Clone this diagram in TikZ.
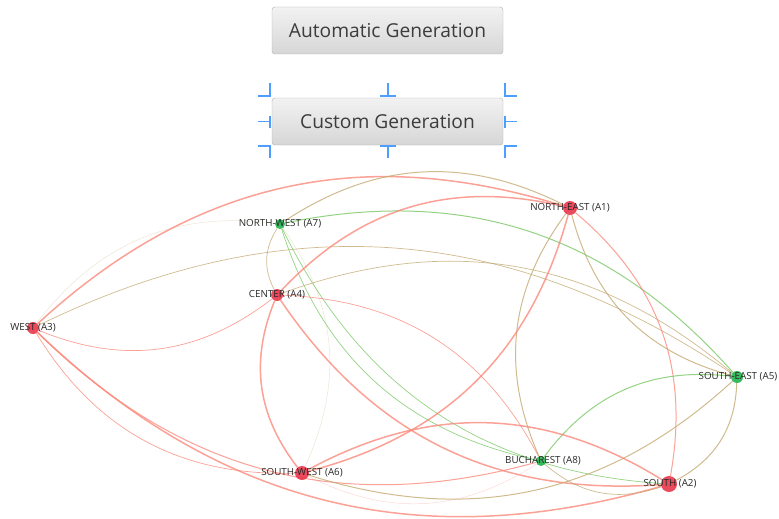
\documentclass[tikz,border=0pt]{standalone}
\usepackage{fontspec}
\setmainfont{Open Sans}
\newfontfamily\btnfont{Open Sans}
\usetikzlibrary{shadings}
\pgfdeclarelayer{edges}
\pgfsetlayers{edges,main}

\definecolor{nodered}{RGB}{232,54,74}
\definecolor{nodegreen}{RGB}{34,178,76}
\definecolor{edgered}{RGB}{250,130,115}
\definecolor{edgegreen}{RGB}{120,200,100}
\definecolor{edgemix}{RGB}{196,170,115}
\definecolor{handleblue}{RGB}{77,158,255}
\definecolor{btnborder}{RGB}{175,175,175}
\definecolor{btntext}{RGB}{60,60,60}
\definecolor{labeltext}{RGB}{40,40,40}

\tikzset{
  vtx/.style={circle, inner sep=0pt, minimum size=#1},
  redv/.style={vtx=#1, fill=nodered, fill opacity=0.9},
  greenv/.style={vtx=#1, fill=nodegreen, fill opacity=0.9},
  vlabel/.style={font=\fontsize{9.8}{11}\selectfont, text=labeltext, inner sep=0pt},
  btn/.style={draw=btnborder, rounded corners=3pt, minimum width=231pt, minimum height=47pt,
    top color=black!5, bottom color=black!16, text=btntext,
    font=\btnfont\fontsize{19.2}{22}\selectfont},
  handle/.style={draw=handleblue, line width=1.4pt},
  er/.style={draw=edgered, draw opacity=0.75},
  eg/.style={draw=edgegreen, draw opacity=0.8},
  em/.style={draw=edgemix, draw opacity=0.8},
  wthick/.style={line width=1.5pt},
  wmid/.style={line width=1pt},
  wthin/.style={line width=0.7pt},
  wfaint/.style={line width=0.5pt, draw opacity=0.3},
}

\begin{document}
\begin{tikzpicture}[x=1pt,y=1pt]
\useasboundingbox (0,0) rectangle (779,-519);

% buttons
\node[btn] (auto) at (387.5,-30.5) {Automatic Generation};
\node[btn] (custom) at (387.5,-121.5) {Custom Generation};

% selection handles round the second button
\draw[handle] (270,-83) -- (270,-96) -- (258,-96);
\draw[handle] (505,-83) -- (505,-96) -- (517,-96);
\draw[handle] (270,-158) -- (270,-146) -- (258,-146);
\draw[handle] (505,-158) -- (505,-146) -- (517,-146);
\draw[handle] (388,-83) -- (388,-96) (380,-96) -- (396,-96);
\draw[handle] (388,-158) -- (388,-146) (380,-146) -- (396,-146);
\draw[handle] (258,-121.5) -- (270,-121.5) (270,-115.5) -- (270,-127.5);
\draw[handle] (517,-121.5) -- (505,-121.5) (505,-115.5) -- (505,-127.5);

% vertices
\node[redv=14pt]   (ne) at (570,-208) {};
\node[redv=16pt]   (s)  at (669,-484) {};
\node[redv=12pt]   (w)  at (33,-328)  {};
\node[redv=12pt]   (c)  at (277,-295) {};
\node[greenv=12pt] (se) at (737,-377) {};
\node[redv=14pt]   (sw) at (302,-473) {};
\node[greenv=10pt] (nw) at (280,-224) {};
\node[greenv=10pt] (b)  at (541,-461) {};

% vertex labels
\node[vlabel] (ne-l) at (570,-208) {NORTH-EAST (A1)};
\node[vlabel] (s-l)  at (670,-484) {SOUTH (A2)};
\node[vlabel] (w-l)  at (33,-328)  {WEST (A3)};
\node[vlabel] (c-l)  at (277,-295) {CENTER (A4)};
\node[vlabel] (se-l) at (738,-377) {SOUTH-EAST (A5)};
\node[vlabel] (sw-l) at (302,-473) {SOUTH-WEST (A6)};
\node[vlabel] (nw-l) at (280,-224) {NORTH-WEST (A7)};
\node[vlabel] (b-l)  at (543,-461) {BUCHAREST (A8)};

% curved edges
\begin{pgfonlayer}{edges}
% from WEST
\draw[er,wthick] (w) to[bend left=30] (ne);
\draw[em,wfaint] (w) to[bend left=30] (nw);
\draw[em,wthin]  (w) to[bend left=30] (se);
\draw[er,wthin]  (w) to[bend right=30] (c);
\draw[er,wthin]  (w) to[bend right=30] (sw);
\draw[er,wthick] (w) to[bend right=30] (s);
\draw[er,wmid]   (w) to[bend right=30] (b);
% from NORTH-WEST
\draw[em,wmid]   (nw) to[bend left=30] (ne);
\draw[em,wthin]  (nw) to[bend right=30] (c);
\draw[eg,wmid]   (nw) to[bend left=30] (se);
\draw[em,wfaint] (nw) to[bend left=30] (sw);
\draw[eg,wthin]  (nw) to[bend right=30] (b);
\draw[eg,wthin]  (nw) to[bend right=30] (s);
% from CENTER
\draw[er,wthick] (c) to[bend left=30] (ne);
\draw[em,wthin]  (c) to[bend left=30] (se);
\draw[er,wthick] (c) to[bend right=30] (sw);
\draw[er,wthin]  (c) to[bend left=30] (b);
\draw[er,wthick] (c) to[bend right=30] (s);
% from NORTH-EAST
\draw[em,wmid]   (ne) to[bend right=30] (se);
\draw[er,wmid]   (ne) to[bend left=30] (s);
\draw[em,wmid]   (ne) to[bend right=30] (b);
\draw[er,wthick] (ne) to[bend left=30] (sw);
% from SOUTH-EAST
\draw[em,wmid]   (se) to[bend left=30] (s);
\draw[eg,wmid]   (se) to[bend right=30] (b);
\draw[em,wmid]   (se) to[bend left=30] (sw);
% from SOUTH-WEST
\draw[er,wthick] (sw) to[bend left=30] (s);
\draw[er,wfaint] (sw) to[bend right=30] (b);
% from BUCHAREST
\draw[em,wthin]  (b) to[bend right=30] (s);
\end{pgfonlayer}
\end{tikzpicture}
\end{document}
